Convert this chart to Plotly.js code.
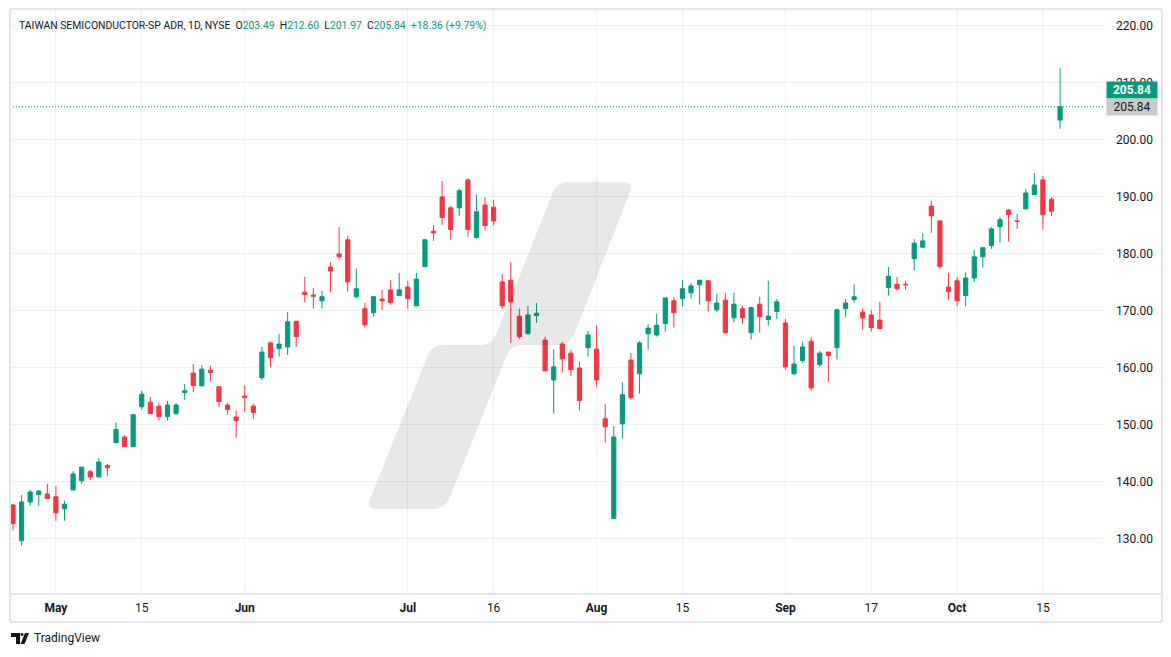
<!DOCTYPE html>
<html>
<head>
<meta charset="utf-8">
<script src="https://cdn.plot.ly/plotly-3.0.1.min.js"></script>
<style>
html,body{margin:0;padding:0;background:#ffffff;}
#chart{width:1171px;height:657px;}
</style>
</head>
<body>
<div id="chart"></div>
<script>
// ---- data (daily candles, TSM ADR) ----
const dates = [
'2024-04-24','2024-04-25','2024-04-26','2024-04-29','2024-04-30',
'2024-05-01','2024-05-02','2024-05-03','2024-05-06','2024-05-07','2024-05-08','2024-05-09','2024-05-10','2024-05-13','2024-05-14','2024-05-15','2024-05-16','2024-05-17','2024-05-20','2024-05-21','2024-05-22','2024-05-23','2024-05-24','2024-05-28','2024-05-29','2024-05-30','2024-05-31',
'2024-06-03','2024-06-04','2024-06-05','2024-06-06','2024-06-07','2024-06-10','2024-06-11','2024-06-12','2024-06-13','2024-06-14','2024-06-17','2024-06-18','2024-06-20','2024-06-21','2024-06-24','2024-06-25','2024-06-26','2024-06-27','2024-06-28',
'2024-07-01','2024-07-02','2024-07-03','2024-07-05','2024-07-08','2024-07-09','2024-07-10','2024-07-11','2024-07-12','2024-07-15','2024-07-16','2024-07-17','2024-07-18','2024-07-19','2024-07-22','2024-07-23','2024-07-24','2024-07-25','2024-07-26','2024-07-29','2024-07-30','2024-07-31',
'2024-08-01','2024-08-02','2024-08-05','2024-08-06','2024-08-07','2024-08-08','2024-08-09','2024-08-12','2024-08-13','2024-08-14','2024-08-15','2024-08-16','2024-08-19','2024-08-20','2024-08-21','2024-08-22','2024-08-23','2024-08-26','2024-08-27','2024-08-28','2024-08-29','2024-08-30',
'2024-09-03','2024-09-04','2024-09-05','2024-09-06','2024-09-09','2024-09-10','2024-09-11','2024-09-12','2024-09-13','2024-09-16','2024-09-17','2024-09-18','2024-09-19','2024-09-20','2024-09-23','2024-09-24','2024-09-25','2024-09-26','2024-09-27','2024-09-30',
'2024-10-01','2024-10-02','2024-10-03','2024-10-04','2024-10-07','2024-10-08','2024-10-09','2024-10-10','2024-10-11','2024-10-14','2024-10-15','2024-10-16','2024-10-17'
];
const openPrices = [
135.96,129.7,136.5,137.8,137.9,
137.4,135.3,138.6,140.2,141.8,140.9,142.9,146.9,147.9,146.2,153.2,154.0,153.3,151.5,152.0,155.7,159.1,156.9,159.6,156.7,153.5,151.4,
155.1,153.3,158.3,164.4,163.4,163.7,168.2,173.3,172.8,171.8,177.7,180.0,182.5,172.5,170.4,169.7,172.1,173.7,172.7,
174.2,170.9,177.8,184.0,190.0,188.1,188.1,193.0,182.9,188.6,188.2,175.1,175.4,169.1,166.0,169.2,164.9,157.9,164.2,162.6,160.0,163.6,
163.3,151.1,133.6,150.2,161.4,159.0,166.0,165.8,167.8,171.8,172.2,173.2,174.6,175.3,170.2,171.9,168.8,170.4,166.2,171.2,168.5,169.9,
167.9,159.0,161.3,164.7,160.6,162.8,163.6,170.4,172.0,169.8,169.3,168.4,174.1,174.7,174.7,179.2,181.2,188.4,185.8,174.2,
175.3,172.7,175.8,179.5,181.5,184.8,187.7,185.8,187.9,190.4,193.0,189.6,203.49
];
const highPrices = [
136.2,137.7,138.65,138.65,139.65,
139.3,136.7,141.9,142.6,142.1,144.2,143.2,150.4,148.2,151.9,156.0,154.9,153.9,154.2,153.9,157.2,160.7,160.5,160.4,156.8,153.9,152.5,
157.0,153.7,163.7,164.6,166.0,169.8,168.2,176.0,174.0,173.5,178.6,184.7,183.2,177.4,171.4,172.6,173.7,175.4,176.7,
175.3,176.7,182.5,185.1,192.8,188.4,191.4,193.3,190.4,190.0,189.5,176.5,178.6,170.4,170.9,171.4,165.5,163.3,164.6,163.2,161.1,166.5,
167.5,153.7,149.8,157.5,162.6,164.7,167.7,169.5,172.3,172.5,175.4,174.9,175.4,175.3,173.0,173.2,173.2,170.9,170.6,172.5,175.3,172.1,
168.6,163.9,164.6,165.3,163.0,162.8,170.4,172.1,174.7,170.5,170.2,171.6,177.7,176.0,175.3,182.6,183.7,189.3,185.8,176.7,
176.0,176.8,180.7,181.2,184.7,186.5,187.9,187.0,191.4,194.2,193.7,190.0,212.60
];
const lowPrices = [
131.5,128.8,135.8,135.8,137.1,
133.2,133.2,138.6,139.7,140.4,140.8,141.1,146.9,146.2,146.2,152.7,152.0,150.8,150.8,151.8,154.4,155.8,156.7,157.6,153.2,151.8,147.8,
152.3,151.0,157.9,160.2,162.0,162.3,163.7,171.5,170.4,170.4,173.3,179.0,173.4,172.2,167.1,169.0,170.2,171.1,172.7,
170.4,170.9,177.8,182.3,185.1,182.5,186.7,183.0,182.7,184.1,185.0,170.4,164.4,165.1,166.0,167.9,159.5,152.0,159.2,158.6,152.5,162.0,
156.7,146.9,133.6,147.6,154.4,155.5,163.2,165.5,166.4,167.1,170.8,172.2,171.1,169.9,169.9,166.0,168.0,167.8,165.0,166.2,167.4,168.6,
159.7,158.8,160.9,156.0,160.2,157.6,161.5,169.0,171.5,166.7,166.4,166.9,172.7,173.6,173.7,177.1,181.1,183.7,177.4,172.0,
170.8,170.8,175.1,177.6,180.9,182.0,182.2,184.4,187.9,190.4,184.3,186.7,201.97
];
const closePrices = [
132.7,136.5,138.25,138.4,137.1,
134.6,136.1,141.4,142.6,140.9,143.5,142.5,149.2,146.2,151.8,155.4,152.0,151.5,153.5,153.5,156.0,156.9,159.8,159.2,154.1,152.7,150.8,
154.8,152.2,162.8,161.8,164.2,168.1,165.5,172.9,172.6,172.5,177.0,179.5,175.1,173.9,167.6,172.5,171.8,171.5,173.7,
172.2,175.6,182.5,183.7,186.4,184.3,191.1,184.3,187.4,185.0,185.8,170.9,171.6,165.5,169.3,169.6,159.5,160.2,161.6,159.7,154.3,165.8,
157.9,149.7,147.9,155.3,154.8,164.4,167.0,167.5,172.3,169.7,173.9,174.4,175.4,171.8,171.4,166.2,171.2,168.8,170.6,169.0,169.1,171.6,
160.2,160.7,163.7,156.5,162.6,162.2,170.2,171.4,172.5,168.8,167.1,166.9,176.1,173.9,174.6,181.9,182.3,186.7,177.8,173.4,
171.8,175.8,179.5,181.1,184.4,186.0,186.9,185.7,190.7,192.1,186.9,187.48,205.84
];
const tickDates = ['2024-05-01','2024-05-15','2024-06-03','2024-07-01','2024-07-16','2024-08-01','2024-08-15','2024-09-03','2024-09-17','2024-10-01','2024-10-15'];
const tickLabels = ['<b>May</b>','15','<b>Jun</b>','<b>Jul</b>','16','<b>Aug</b>','15','<b>Sep</b>','17','<b>Oct</b>','15'];
const symbolTitle = 'TAIWAN SEMICONDUCTOR-SP ADR, 1D, NYSE';
const brandText = 'TradingView';

// ---- styling ----
const UP = '#089981', DOWN = '#f23645', TXT = '#131722', GRID = '#f0f0f0', FRAME = '#e4e5ea';
const FONT = 'Roboto, "Liberation Sans", Arial, sans-serif';
const L = 10, T = 9, W = 1093, H = 585;           // plot area in pixels
const px = x => (x - L) / W;
const py = y => 1 - (y - T) / H;

function roundedPath(pts, r) {
  const n = pts.length;
  const f = p => px(p[0]).toFixed(5) + ',' + py(p[1]).toFixed(5);
  let d = '';
  for (let i = 0; i < n; i++) {
    const p0 = pts[(i - 1 + n) % n], p = pts[i], p1 = pts[(i + 1) % n];
    const v0 = [p0[0] - p[0], p0[1] - p[1]], v1 = [p1[0] - p[0], p1[1] - p[1]];
    const l0 = Math.hypot(v0[0], v0[1]), l1 = Math.hypot(v1[0], v1[1]);
    const rr = Math.min(r, l0 / 2, l1 / 2);
    const a = [p[0] + v0[0] / l0 * rr, p[1] + v0[1] / l0 * rr];
    const b = [p[0] + v1[0] / l1 * rr, p[1] + v1[1] / l1 * rr];
    d += (i === 0 ? 'M' : 'L') + f(a) + ' Q' + f(p) + ' ' + f(b) + ' ';
  }
  return d + 'Z';
}

const last = closePrices.length - 1;
const chg = closePrices[last] - closePrices[last - 1];
const chgPct = chg / closePrices[last - 1] * 100;
const g = v => '<span style="color:' + UP + '">' + v + '</span>';
const sp = '\u00a0\u00a0';
const header = symbolTitle + sp + 'O' + g(openPrices[last].toFixed(2)) + sp + 'H' + g(highPrices[last].toFixed(2)) +
  sp + 'L' + g(lowPrices[last].toFixed(2)) + sp + 'C' + g(closePrices[last].toFixed(2)) + sp +
  g((chg >= 0 ? '+' : '') + chg.toFixed(2) + ' (' + (chgPct >= 0 ? '+' : '') + chgPct.toFixed(2) + '%)');

const trace = {
  type: 'candlestick',
  x: dates, open: openPrices, high: highPrices, low: lowPrices, close: closePrices,
  increasing: {line: {color: UP, width: 1}, fillcolor: UP},
  decreasing: {line: {color: DOWN, width: 1}, fillcolor: DOWN},
  whiskerwidth: 0,
  hoverinfo: 'skip',
  showlegend: false
};

const watermark = [[557,182],[634,182],[570,345],[511,345],[445,509],[366,509],[432,345],[492,345]];

const shapes = [
  // watermark
  {type: 'path', xref: 'paper', yref: 'paper', path: roundedPath(watermark, 11),
   fillcolor: 'rgba(0,0,0,0.09)', line: {width: 0}, layer: 'above'},
  // last price dotted line
  {type: 'line', xref: 'paper', yref: 'y', x0: 0, x1: 1, y0: closePrices[last], y1: closePrices[last],
   line: {color: UP, width: 1, dash: '1px,2px'}, layer: 'above'},
  // frame
  {type: 'line', xref: 'paper', yref: 'paper', x0: px(10), x1: px(1162), y0: py(9), y1: py(9), line: {color: FRAME, width: 2}},
  {type: 'line', xref: 'paper', yref: 'paper', x0: px(10), x1: px(1162), y0: py(622), y1: py(622), line: {color: FRAME, width: 2}},
  {type: 'line', xref: 'paper', yref: 'paper', x0: px(10), x1: px(1162), y0: py(594), y1: py(594), line: {color: FRAME, width: 2}},
  {type: 'line', xref: 'paper', yref: 'paper', x0: px(10), x1: px(10), y0: py(9), y1: py(622), line: {color: FRAME, width: 2}},
  {type: 'line', xref: 'paper', yref: 'paper', x0: px(1162), x1: px(1162), y0: py(9), y1: py(622), line: {color: FRAME, width: 2}},
  // TradingView logo mark
  {type: 'path', xref: 'paper', yref: 'paper', fillcolor: TXT, line: {width: 0},
   path: 'M' + px(11) + ',' + py(633) + ' L' + px(20) + ',' + py(633) + ' L' + px(20) + ',' + py(644) + ' L' + px(16) + ',' + py(644) +
         ' L' + px(16) + ',' + py(637) + ' L' + px(11) + ',' + py(637) + ' Z'},
  {type: 'circle', xref: 'paper', yref: 'paper', x0: px(20.5), x1: px(23.5), y0: py(633), y1: py(636), fillcolor: TXT, line: {width: 0}},
  {type: 'path', xref: 'paper', yref: 'paper', fillcolor: TXT, line: {width: 0},
   path: 'M' + px(25) + ',' + py(633) + ' L' + px(29) + ',' + py(633) + ' L' + px(24.5) + ',' + py(644) + ' L' + px(20.5) + ',' + py(644) + ' Z'}
];

const annotations = [
  {xref: 'paper', yref: 'paper', x: px(17), y: py(25), xanchor: 'left', yanchor: 'middle', showarrow: false,
   text: header, font: {family: FONT, size: 10.4, color: TXT}},
  {xref: 'paper', yref: 'paper', x: px(32), y: py(638), xanchor: 'left', yanchor: 'middle', showarrow: false,
   text: brandText, font: {family: FONT, size: 12, color: TXT}},
  // price labels on the right scale
  {xref: 'paper', yref: 'y', x: px(1106), y: closePrices[last], yshift: 17, xanchor: 'left', yanchor: 'middle', showarrow: false,
   text: '<b>' + closePrices[last].toFixed(2) + '</b>', bgcolor: UP, width: 50, height: 16, borderpad: 0,
   font: {family: FONT, size: 12, color: '#ffffff'}},
  {xref: 'paper', yref: 'y', x: px(1106), y: closePrices[last], xanchor: 'left', yanchor: 'middle', showarrow: false,
   text: closePrices[last].toFixed(2), bgcolor: '#c8c8c8', width: 50, height: 16, borderpad: 0,
   font: {family: FONT, size: 12, color: TXT}}
];

const layout = {
  width: 1171, height: 657,
  margin: {l: L, r: 1171 - L - W, t: T, b: 657 - T - H},
  paper_bgcolor: '#ffffff', plot_bgcolor: '#ffffff',
  font: {family: FONT, size: 12, color: TXT},
  showlegend: false,
  boxgap: 0.3,
  xaxis: {
    type: 'category', range: [-0.35, 127.0], rangeslider: {visible: false},
    tickvals: tickDates, ticktext: tickLabels, tickangle: 0,
    showgrid: true, gridcolor: GRID, gridwidth: 1, zeroline: false, showline: false, ticks: '',
    ticklabelstandoff: 5, tickfont: {family: FONT, size: 12, color: TXT}, fixedrange: true
  },
  yaxis: {
    side: 'right', range: [120.35, 222.98], dtick: 10, tick0: 0, tickformat: '.2f',
    showgrid: true, gridcolor: GRID, gridwidth: 1, zeroline: false, showline: false, ticks: '',
    ticklabelstandoff: 12, tickfont: {family: FONT, size: 12, color: TXT}, fixedrange: true
  },
  shapes: shapes,
  annotations: annotations
};

Plotly.newPlot('chart', [trace], layout, {staticPlot: true, displayModeBar: false});
</script>
</body>
</html>
